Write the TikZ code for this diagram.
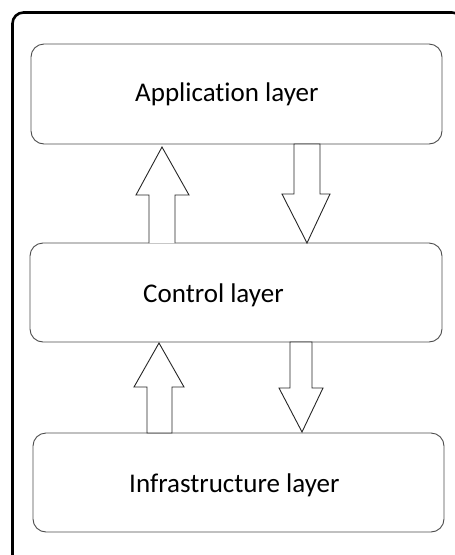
\documentclass[tikz,border=0pt]{standalone}
\usepackage{fontspec}
\setmainfont{Carlito}[Ligatures=NoCommon]
\begin{document}
\begin{tikzpicture}[x=1pt,y=-1pt,
  layerbox/.style={draw=black!70, line width=0.9pt, rounded corners=13pt},
  layertext/.style={anchor=base west, inner sep=0pt, font=\fontsize{27}{32}\selectfont},
  blockarrow/.style={draw=black!85, line width=0.9pt, fill=white, line join=miter}]
\useasboundingbox (0,0) rectangle (455,555);

% outer frame, running off the right and bottom edges
\begin{scope}
  \clip (0,0) rectangle (455,555);
  \draw[line width=2.6pt, rounded corners=11pt] (12.5,12.5) rectangle (463,600);
\end{scope}

% the three layers
\draw[layerbox] (31,44) rectangle (442,144);
\draw[layerbox] (30,243) rectangle (442,342);
\draw[layerbox] (33,433) rectangle (444,532);

\node[layertext] (app) at (135,101) {Application layer};
\node[layertext] (ctl) at (143,302) {Control layer};
\node[layertext] (inf) at (129,492) {Infrastructure layer};

% block arrows between application and control layers
\draw[blockarrow] (149,243) -- (149,195) -- (136,195) -- (162,147) -- (189,195)
  -- (175,195) -- (175,243);
\draw[blockarrow] (294,144) -- (294,194) -- (282,194) -- (307,243) -- (330,194)
  -- (320,194) -- (320,144) -- cycle;

% block arrows between control and infrastructure layers
\draw[blockarrow] (147,433) -- (147,387) -- (134,387) -- (159,343) -- (184,387)
  -- (172,387) -- (172,433) -- cycle;
\draw[blockarrow] (290,342) -- (290,388) -- (279,388) -- (302,432) -- (323,388)
  -- (312,388) -- (312,342) -- cycle;
\end{tikzpicture}
\end{document}
